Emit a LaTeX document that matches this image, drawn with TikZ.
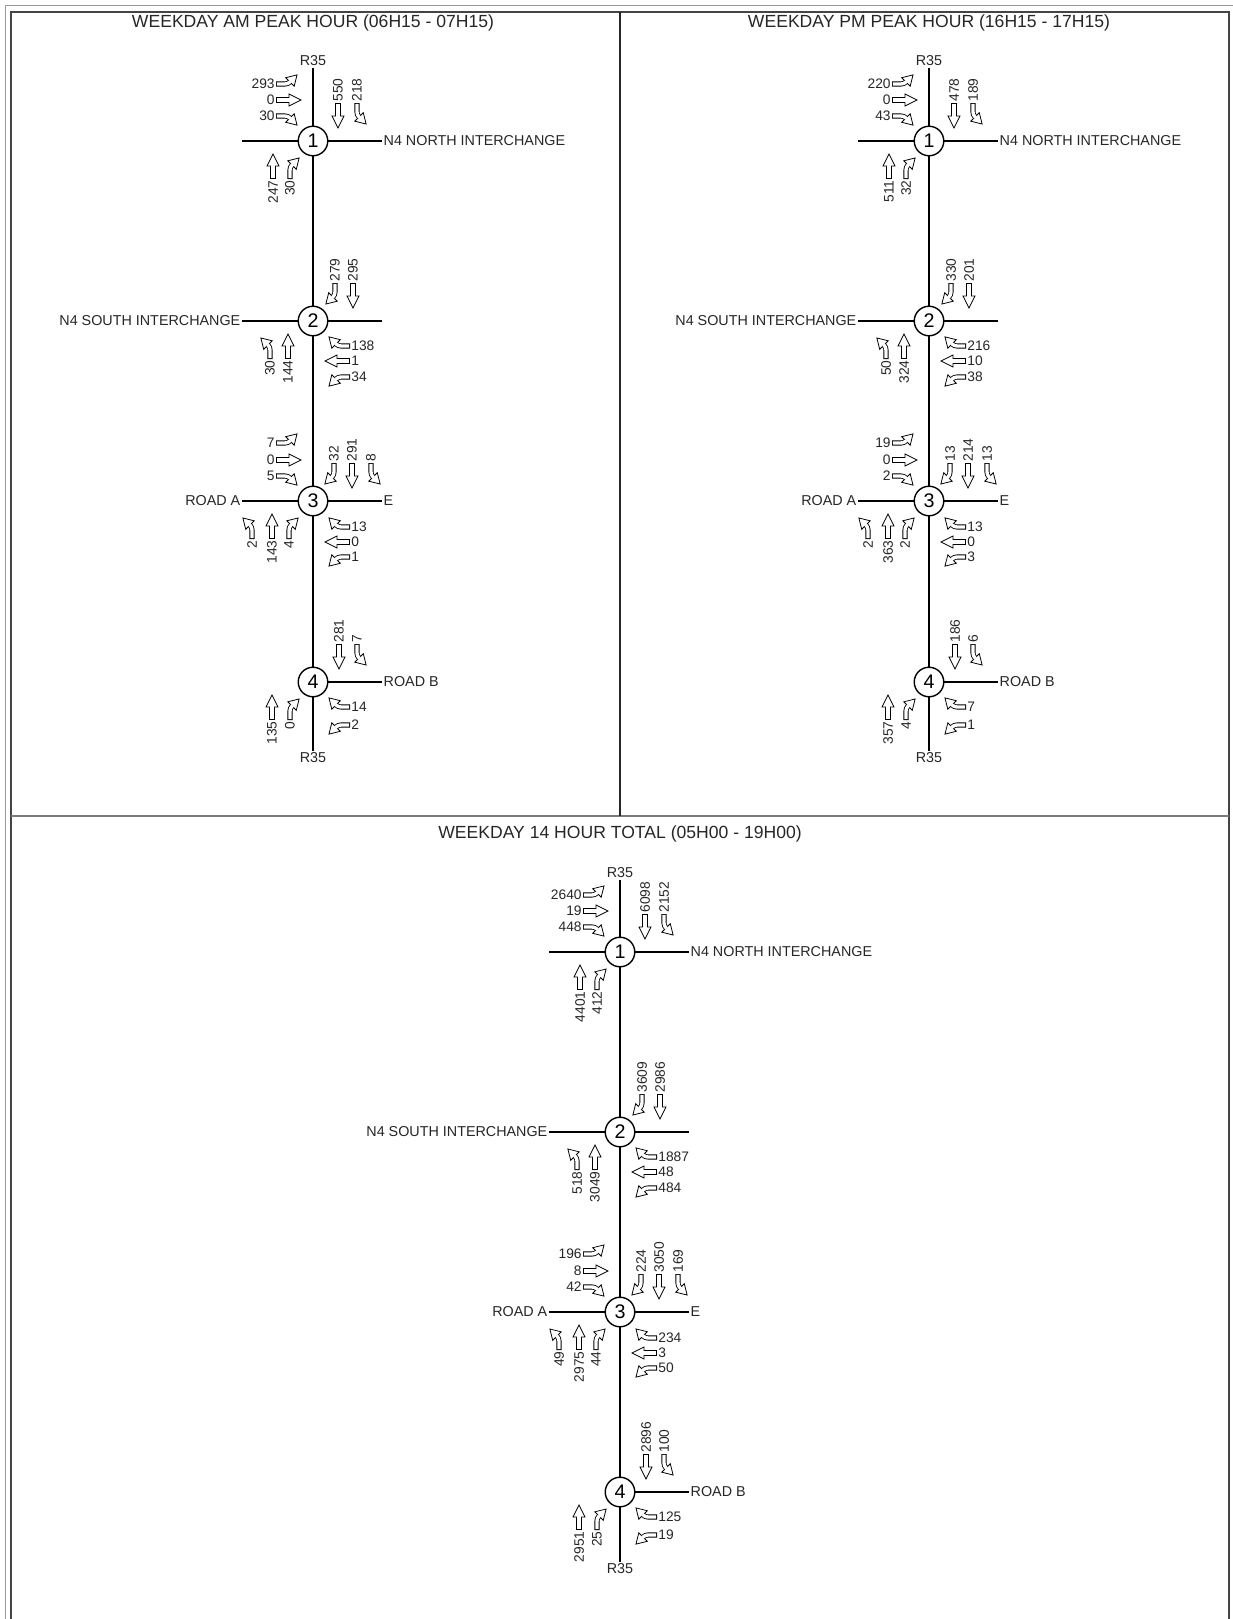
\documentclass[tikz,border=0pt]{standalone}
\usepackage{fontspec}
\setmainfont{Liberation Sans}
\usetikzlibrary{calc}

% one turning movement: arrow pic with its tail at the point, count beside the tail
\newcounter{mvno}
\newcommand{\mvE}[3]{\stepcounter{mvno}%
  \pic at (#1) {#2};
  \node[lab, anchor=east] (mv\themvno) at (#1) {#3};}
\newcommand{\mvW}[3]{\stepcounter{mvno}%
  \pic[rotate=180] at (#1) {#2};
  \node[lab, anchor=west] (mv\themvno) at (#1) {#3};}
\newcommand{\mvN}[3]{\stepcounter{mvno}%
  \pic[rotate=90] at (#1) {#2};
  \node[lab, rotate=90, anchor=east] (mv\themvno) at (#1) {#3};}
\newcommand{\mvS}[3]{\stepcounter{mvno}%
  \pic[rotate=270] at (#1) {#2};
  \node[lab, rotate=90, anchor=west] (mv\themvno) at (#1) {#3};}

\definecolor{frameout}{HTML}{9A9A9A}
\definecolor{framein}{HTML}{444444}
\definecolor{framemid}{HTML}{7A7A7A}

\tikzset{
  shaft/.style={line width=3.6pt, black},
  shaftin/.style={line width=2.4pt, white},
  head/.style={fill=white, draw=black, line width=0.55pt, line join=miter},
  thru/.pic={
    \draw[shaft] (0,0) -- (13,0);
    \draw[head] (13,-6) -- (25,0) -- (13,6) -- cycle;
    \draw[shaftin] (0.8,0) -- (13.8,0);
  },
  turnl/.pic={
    \draw[shaft] (0,0) -- (9,0) arc[start angle=-90, end angle=-45, radius=7];
    \draw[head] (9.71,6.29) -- (21.02,9.12) -- (18.19,-2.19) -- cycle;
    \draw[shaftin] (0.8,0) -- (9,0) arc[start angle=-90, end angle=-45, radius=7] -- ++(45:0.8);
  },
  turnr/.pic={
    \draw[shaft] (0,0) -- (9,0) arc[start angle=90, end angle=45, radius=7];
    \draw[head] (9.71,-6.29) -- (21.02,-9.12) -- (18.19,2.19) -- cycle;
    \draw[shaftin] (0.8,0) -- (9,0) arc[start angle=90, end angle=45, radius=7] -- ++(-45:0.8);
  },
  lab/.style={font=\fontsize{9.8}{10}\selectfont, inner sep=0.8pt, text=black!85},
  rname/.style={font=\fontsize{10.2}{10}\selectfont, inner sep=1pt, text=black!85},
  title/.style={font=\fontsize{12.5}{12}\selectfont, text=black!85},
  junc/.style={circle, draw, line width=1pt, minimum size=21pt, inner sep=0pt,
    font=\fontsize{14}{14}\selectfont},
  road/.style={line width=1.5pt, black},
}

\begin{document}
\begin{tikzpicture}[x=0.025cm, y=0.025cm]
    \useasboundingbox (0,0) rectangle (1233,-1619);
    \clip (0,0) rectangle (1233,-1619);

    % frame and panel dividers
    \draw[frameout, line width=1.3pt] (5.5,-1700) -- (5.5,-5.5) -- (1300,-5.5);
    \draw[framein, line width=1.4pt] (11,-1700) -- (11,-12) -- (1229,-12) -- (1229,-1700);
    \draw[framemid, line width=1.3pt] (11,-816) -- (1229,-816);
    \draw[black!85, line width=1.1pt] (620,-12) -- (620,-816);

    % ---------------- AM peak ----------------
    \node[title] (amt) at (313,-23) {WEEKDAY AM PEAK HOUR (06H15 - 07H15)};
    \node[rname] (a0) at (313,-61) {R35};
    \node[junc] (a1) at (313,-141) {1};
    \node[junc] (a2) at (313,-321) {2};
    \node[junc] (a3) at (313,-501) {3};
    \node[junc] (a4) at (313,-682) {4};
    \node[rname] (a5) at (313,-758) {R35};
    \draw[road] (a0) -- (a1) -- (a2) -- (a3) -- (a4) -- (a5);

    % intersection 1
    \begin{scope}[shift={(a1)}]
      \coordinate (a1w) at (-71,0);
      \node[rname, anchor=west] (a1e) at (69,0) {N4 NORTH INTERCHANGE};
      \draw[road] (a1w) -- (a1) -- (a1e);
      \mvE{-37,57}{turnl}{293}
      \mvE{-37,41}{thru}{0}
      \mvE{-37,25}{turnr}{30}
      \mvS{25,38}{thru}{550}
      \mvS{44,38}{turnl}{218}
      \mvN{-40,-38}{thru}{247}
      \mvN{-23,-38}{turnr}{30}
    \end{scope}

    % intersection 2
    \begin{scope}[shift={(a2)}]
      \node[rname, anchor=east] (a2w) at (-71,0) {N4 SOUTH INTERCHANGE};
      \coordinate (a2e) at (69,0);
      \draw[road] (a2w) -- (a2) -- (a2e);
      \mvS{22,38}{turnr}{279}
      \mvS{40,38}{thru}{295}
      \mvN{-43,-38}{turnl}{30}
      \mvN{-25,-38}{thru}{144}
      \mvW{37,-25}{turnr}{138}
      \mvW{37,-40}{thru}{1}
      \mvW{37,-56}{turnl}{34}
    \end{scope}

    % intersection 3
    \begin{scope}[shift={(a3)}]
      \node[rname, anchor=east] (a3w) at (-71,0) {ROAD A};
      \node[rname, anchor=west] (a3e) at (69,0) {E};
      \draw[road] (a3w) -- (a3) -- (a3e);
      \mvE{-37,58}{turnl}{7}
      \mvE{-37,41}{thru}{0}
      \mvE{-37,25}{turnr}{5}
      \mvS{21,38}{turnr}{32}
      \mvS{39,38}{thru}{291}
      \mvS{58,38}{turnl}{8}
      \mvN{-61,-38}{turnl}{2}
      \mvN{-41,-38}{thru}{143}
      \mvN{-24,-38}{turnr}{4}
      \mvW{37,-26}{turnr}{13}
      \mvW{37,-41}{thru}{0}
      \mvW{37,-56}{turnl}{1}
    \end{scope}

    % intersection 4
    \begin{scope}[shift={(a4)}]
      \node[rname, anchor=west] (a4e) at (69,0) {ROAD B};
      \draw[road] (a4) -- (a4e);
      \mvS{26,38}{thru}{281}
      \mvS{44,38}{turnl}{7}
      \mvN{-41,-38}{thru}{135}
      \mvN{-23,-38}{turnr}{0}
      \mvW{37,-25}{turnr}{14}
      \mvW{37,-43}{turnl}{2}
    \end{scope}

    % ---------------- PM peak ----------------
    \node[title] (pmt) at (929,-23) {WEEKDAY PM PEAK HOUR (16H15 - 17H15)};
    \node[rname] (p0) at (929,-61) {R35};
    \node[junc] (p1) at (929,-141) {1};
    \node[junc] (p2) at (929,-321) {2};
    \node[junc] (p3) at (929,-501) {3};
    \node[junc] (p4) at (929,-682) {4};
    \node[rname] (p5) at (929,-758) {R35};
    \draw[road] (p0) -- (p1) -- (p2) -- (p3) -- (p4) -- (p5);

    % intersection 1
    \begin{scope}[shift={(p1)}]
      \coordinate (p1w) at (-71,0);
      \node[rname, anchor=west] (p1e) at (69,0) {N4 NORTH INTERCHANGE};
      \draw[road] (p1w) -- (p1) -- (p1e);
      \mvE{-37,57}{turnl}{220}
      \mvE{-37,41}{thru}{0}
      \mvE{-37,25}{turnr}{43}
      \mvS{25,38}{thru}{478}
      \mvS{44,38}{turnl}{189}
      \mvN{-40,-38}{thru}{511}
      \mvN{-23,-38}{turnr}{32}
    \end{scope}

    % intersection 2
    \begin{scope}[shift={(p2)}]
      \node[rname, anchor=east] (p2w) at (-71,0) {N4 SOUTH INTERCHANGE};
      \coordinate (p2e) at (69,0);
      \draw[road] (p2w) -- (p2) -- (p2e);
      \mvS{22,38}{turnr}{330}
      \mvS{40,38}{thru}{201}
      \mvN{-43,-38}{turnl}{50}
      \mvN{-25,-38}{thru}{324}
      \mvW{37,-25}{turnr}{216}
      \mvW{37,-40}{thru}{10}
      \mvW{37,-56}{turnl}{38}
    \end{scope}

    % intersection 3
    \begin{scope}[shift={(p3)}]
      \node[rname, anchor=east] (p3w) at (-71,0) {ROAD A};
      \node[rname, anchor=west] (p3e) at (69,0) {E};
      \draw[road] (p3w) -- (p3) -- (p3e);
      \mvE{-37,58}{turnl}{19}
      \mvE{-37,41}{thru}{0}
      \mvE{-37,25}{turnr}{2}
      \mvS{21,38}{turnr}{13}
      \mvS{39,38}{thru}{214}
      \mvS{58,38}{turnl}{13}
      \mvN{-61,-38}{turnl}{2}
      \mvN{-41,-38}{thru}{363}
      \mvN{-24,-38}{turnr}{2}
      \mvW{37,-26}{turnr}{13}
      \mvW{37,-41}{thru}{0}
      \mvW{37,-56}{turnl}{3}
    \end{scope}

    % intersection 4
    \begin{scope}[shift={(p4)}]
      \node[rname, anchor=west] (p4e) at (69,0) {ROAD B};
      \draw[road] (p4) -- (p4e);
      \mvS{26,38}{thru}{186}
      \mvS{44,38}{turnl}{6}
      \mvN{-41,-38}{thru}{357}
      \mvN{-23,-38}{turnr}{4}
      \mvW{37,-25}{turnr}{7}
      \mvW{37,-43}{turnl}{1}
    \end{scope}

    % ---------------- 14 hour total ----------------
    \node[title] (tt) at (620,-834) {WEEKDAY 14 HOUR TOTAL (05H00 - 19H00)};
    \node[rname] (t0) at (620,-873) {R35};
    \node[junc] (t1) at (620,-952) {1};
    \node[junc] (t2) at (620,-1132) {2};
    \node[junc] (t3) at (620,-1312) {3};
    \node[junc] (t4) at (620,-1492) {4};
    \node[rname] (t5) at (620,-1569) {R35};
    \draw[road] (t0) -- (t1) -- (t2) -- (t3) -- (t4) -- (t5);

    % intersection 1
    \begin{scope}[shift={(t1)}]
      \coordinate (t1w) at (-71,0);
      \node[rname, anchor=west] (t1e) at (69,0) {N4 NORTH INTERCHANGE};
      \draw[road] (t1w) -- (t1) -- (t1e);
      \mvE{-37,57}{turnl}{2640}
      \mvE{-37,41}{thru}{19}
      \mvE{-37,25}{turnr}{448}
      \mvS{25,38}{thru}{6098}
      \mvS{44,38}{turnl}{2152}
      \mvN{-40,-38}{thru}{4401}
      \mvN{-23,-38}{turnr}{412}
    \end{scope}

    % intersection 2
    \begin{scope}[shift={(t2)}]
      \node[rname, anchor=east] (t2w) at (-71,0) {N4 SOUTH INTERCHANGE};
      \coordinate (t2e) at (69,0);
      \draw[road] (t2w) -- (t2) -- (t2e);
      \mvS{22,38}{turnr}{3609}
      \mvS{40,38}{thru}{2986}
      \mvN{-43,-38}{turnl}{518}
      \mvN{-25,-38}{thru}{3049}
      \mvW{37,-25}{turnr}{1887}
      \mvW{37,-40}{thru}{48}
      \mvW{37,-56}{turnl}{484}
    \end{scope}

    % intersection 3
    \begin{scope}[shift={(t3)}]
      \node[rname, anchor=east] (t3w) at (-71,0) {ROAD A};
      \node[rname, anchor=west] (t3e) at (69,0) {E};
      \draw[road] (t3w) -- (t3) -- (t3e);
      \mvE{-37,58}{turnl}{196}
      \mvE{-37,41}{thru}{8}
      \mvE{-37,25}{turnr}{42}
      \mvS{21,38}{turnr}{224}
      \mvS{39,38}{thru}{3050}
      \mvS{58,38}{turnl}{169}
      \mvN{-61,-38}{turnl}{49}
      \mvN{-41,-38}{thru}{2975}
      \mvN{-24,-38}{turnr}{44}
      \mvW{37,-26}{turnr}{234}
      \mvW{37,-41}{thru}{3}
      \mvW{37,-56}{turnl}{50}
    \end{scope}

    % intersection 4
    \begin{scope}[shift={(t4)}]
      \node[rname, anchor=west] (t4e) at (69,0) {ROAD B};
      \draw[road] (t4) -- (t4e);
      \mvS{26,38}{thru}{2896}
      \mvS{44,38}{turnl}{100}
      \mvN{-41,-38}{thru}{2951}
      \mvN{-23,-38}{turnr}{25}
      \mvW{37,-25}{turnr}{125}
      \mvW{37,-43}{turnl}{19}
    \end{scope}
\end{tikzpicture}
\end{document}
